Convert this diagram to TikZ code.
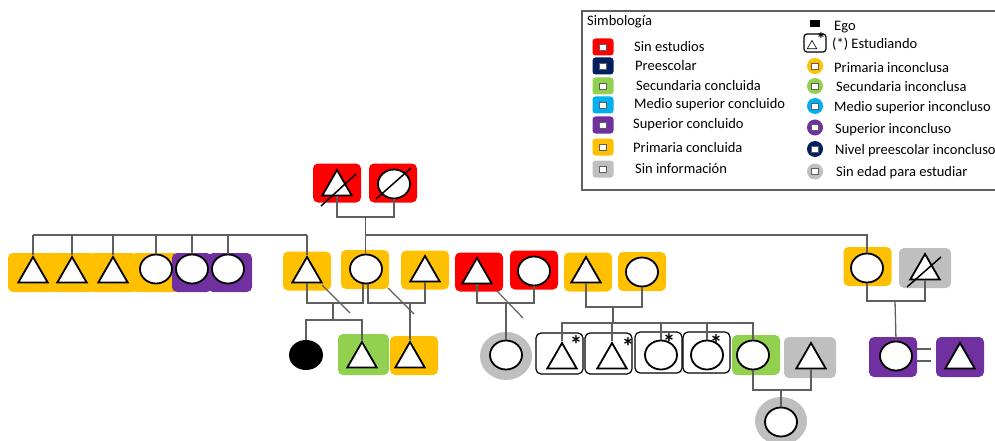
\documentclass[tikz,border=0pt]{standalone}
\usepackage{fontspec}
\setmainfont{Carlito}
\usetikzlibrary{shapes.geometric,calc}
\definecolor{cred}{HTML}{FF0000}
\definecolor{cnavy}{HTML}{002060}
\definecolor{cgreen}{HTML}{92D050}
\definecolor{cblue}{HTML}{00B0F0}
\definecolor{cpurple}{HTML}{7030A0}
\definecolor{corange}{HTML}{FFC000}
\definecolor{cgray}{HTML}{BFBFBF}
\definecolor{linegray}{HTML}{5F5F5F}
\tikzset{
  conn/.style={draw=linegray, line width=1.3pt},
  divslash/.style={draw=linegray, line width=1.2pt},
  deadslash/.style={draw=black, line width=1.5pt},
  pbox/.style={rounded corners=5pt, minimum width=48pt, minimum height=39pt, inner sep=0pt, draw=none},
  stbox/.style={rounded corners=5pt, minimum width=47pt, minimum height=41pt, inner sep=0pt, draw=black, line width=1.2pt, fill=white},
  tri/.style={regular polygon, regular polygon sides=3, minimum size=34pt, inner sep=0pt, draw=black, line width=1.8pt, fill=white},
  circ/.style={ellipse, minimum width=32pt, minimum height=29pt, inner sep=0pt, draw=black, line width=1.8pt, fill=white},
  halo/.style={ellipse, minimum width=52pt, minimum height=48pt, inner sep=0pt, fill=cgray},
  star/.style={inner sep=0pt, anchor=north, font=\fontsize{25}{25}\selectfont\bfseries},
  lt/.style={anchor=base west, inner sep=0pt},
  swatch/.style={rounded corners=3pt, minimum width=21pt, minimum height=17pt, inner sep=0pt},
  dot/.style={circle, minimum size=16pt, inner sep=0pt},
  minisq/.style={draw=linegray, fill=white, line width=0.8pt, minimum width=7pt, minimum height=6pt, inner sep=0pt},
}
\begin{document}
\begin{tikzpicture}[x=1pt,y=-1pt,font=\fontsize{14.5}{17}\selectfont]
\useasboundingbox (0,0) rectangle (995,441);
\clip (0,0) rectangle (995,441);

% ---------- Legend ----------
\draw[draw=linegray, line width=1.1pt] (582,11) rectangle (1000,190);
\node[lt] at (587,25.5) {Simbología};
\node[swatch, fill=cred] (lg1) at (603,47) {};
\node[swatch, fill=cnavy] (lg2) at (603,66) {};
\node[swatch, fill=cgreen] (lg3) at (603,86) {};
\node[swatch, fill=cblue] (lg4) at (603,105) {};
\node[swatch, fill=cpurple] (lg5) at (603,125) {};
\node[swatch, fill=corange] (lg6) at (603,147) {};
\node[swatch, fill=cgray] (lg7) at (603,169) {};
\foreach \n in {lg1,lg2,lg3,lg4,lg5,lg6,lg7} \node[minisq] at (\n) {};
\node[lt] at (634,52) {Sin estudios};
\node[lt] at (635,70.8) {Preescolar};
\node[lt] at (636,91) {Secundaria concluida};
\node[lt] at (634,108.8) {Medio superior concluido};
\node[lt] at (633,128.5) {Superior concluido};
\node[lt] at (633,152) {Primaria concluida};
\node[lt] at (635,173.8) {Sin información};

\node[fill=black, minimum width=10pt, minimum height=7pt, inner sep=0pt] (lgego) at (814.5,24) {};
\node[rounded corners=3pt, minimum width=22pt, minimum height=18pt, inner sep=0pt, draw=black, line width=1.2pt] (lgst) at (815,43) {};
\node[regular polygon, regular polygon sides=3, minimum size=11pt, inner sep=0pt, draw=black, line width=0.6pt] (lgtri) at (812,46) {};
\node[star, font=\fontsize{18}{18}\selectfont\bfseries] (lgstar) at (821,32.5) {*};
\node[dot, fill=corange] (ld1) at (815,66) {};
\node[dot, fill=cgreen] (ld2) at (815,86) {};
\node[dot, fill=cblue] (ld3) at (815,106) {};
\node[dot, fill=cpurple] (ld4) at (815,127.5) {};
\node[dot, fill=cnavy] (ld5) at (815,149) {};
\node[dot, fill=cgray] (ld6) at (815,171.5) {};
\foreach \n in {ld1,ld2,ld3,ld4,ld5,ld6} \node[minisq] at (\n) {};
\node[lt] at (834,31) {Ego};
\node[lt] at (832,48.8) {(*) Estudiando};
\node[lt] at (834,72.5) {Primaria inconclusa};
\node[lt] at (836,91.2) {Secundaria inconclusa};
\node[lt] at (834,112) {Medio superior inconcluso};
\node[lt] at (835,133.8) {Superior inconcluso};
\node[lt] at (835,154.8) {Nivel preescolar inconcluso};
\node[lt] at (836,176) {Sin edad para estudiar};

% ---------- Generation 1 ----------
\node[pbox, fill=cred] (gfbox) at (337,183) {};
\node[pbox, fill=cred] (gmbox) at (393,183) {};
\node[tri] (gf) at (337,187) {};
\node[circ] (gm) at (394,184) {};
\draw[deadslash] (321,206) -- (356,174);
\draw[deadslash] (376,199) -- (411,168);

% ---------- Generation 2 ----------
\node[pbox, fill=corange] (s1box) at (32,272.5) {};
\node[pbox, fill=corange] (s2box) at (72,272.5) {};
\node[pbox, fill=corange] (s3box) at (113,272.5) {};
\node[pbox, fill=corange] (s4box) at (155,272.5) {};
\node[pbox, fill=cpurple, minimum width=40pt] (s5box) at (192,272.5) {};
\node[pbox, fill=cpurple, minimum width=44pt] (s6box) at (230,272.5) {};
\node[tri] (s1) at (33,274) {};
\node[tri] (s2) at (72,274) {};
\node[tri] (s3) at (113,274) {};
\node[circ] (s4) at (156,269) {};
\node[circ] (s5) at (192,269) {};
\node[circ] (s6) at (228,269) {};

\node[pbox, fill=corange] (f1box) at (307,271) {};
\node[tri] (f1) at (307,274) {};
\node[pbox, fill=corange] (mbox) at (365,269.5) {};
\node[circ] (m) at (366,269) {};
\node[pbox, fill=corange] (f2box) at (425,270) {};
\node[tri] (f2) at (425,273) {};
\node[pbox, fill=cred] (rtbox) at (479,272) {};
\node[tri] (rt) at (477,275) {};
\node[pbox, fill=cred] (rcbox) at (534,270) {};
\node[circ] (rc) at (534,271) {};
\node[pbox, fill=corange] (otbox) at (588,272) {};
\node[tri] (ot) at (586,274) {};
\node[pbox, fill=corange] (ocbox) at (642,271.5) {};
\node[circ] (oc) at (642,272) {};
\node[pbox, fill=corange] (rcirbox) at (867.5,266.5) {};
\node[circ] (rcir) at (867,268) {};
\node[pbox, fill=cgray, minimum width=52pt, minimum height=40pt] (rtribox) at (925,268) {};
\node[tri] (rtri) at (925,271) {};
\draw[deadslash] (907,287) -- (941,257);

% ---------- Generation 3 ----------
\node[ellipse, fill=black, minimum width=34pt, minimum height=30pt, inner sep=0pt] (ego) at (306,355) {};
\node[pbox, fill=cgreen, minimum width=51pt, minimum height=41pt] (g3abox) at (363.5,354.5) {};
\node[tri] (g3a) at (362,359) {};
\node[pbox, fill=corange] (g3bbox) at (414,355.5) {};
\node[tri] (g3b) at (410,359) {};
\node[halo] (gh1halo) at (506,356) {};
\node[circ] (gh1) at (506,355) {};
\node[stbox] (st1box) at (559.5,353.5) {};
\node[tri] (st1) at (562,360) {};
\node[stbox] (st2box) at (608.5,353.5) {};
\node[tri] (st2) at (612,360) {};
\node[stbox] (st3box) at (658.5,352.5) {};
\node[circ] (st3) at (661,355) {};
\node[stbox] (st4box) at (706.5,352.5) {};
\node[circ] (st4) at (707,355) {};
\node[star] (ast1) at (576,335) {*};
\node[star] (ast2) at (628,337) {*};
\node[star] (ast3) at (669,333) {*};
\node[star] (ast4) at (716,334) {*};
\node[pbox, fill=cgreen, minimum height=40pt] (gcbox) at (756,355) {};
\node[circ] (gc) at (753,355) {};
\node[pbox, fill=cgray, minimum width=52pt, minimum height=41pt] (gtbox) at (810,357.5) {};
\node[tri] (gt) at (811,360) {};
\node[pbox, fill=cpurple, minimum height=40pt] (pcbox) at (893,357) {};
\node[circ] (pc) at (896,356) {};
\node[pbox, fill=cpurple, minimum height=40pt] (ptbox) at (960,357) {};
\node[tri] (pt) at (960,360) {};

% ---------- Generation 4 ----------
\node[halo] (gh2halo) at (781,421) {};
\node[circ] (gh2) at (781,422) {};

% ---------- Connectors ----------
\draw[conn] (gf.south) -- (gf.south |- 0,217) -| (gm.south);
\coordinate (gpc) at (365.5,217);
\draw[conn] (gpc) -- (gpc |- m.north);
\draw[conn] (s1.north |- 0,235) -- (f1.north |- 0,235);
\foreach \n in {s1,s2,s3,s4,s5,s6,f1} \draw[conn] (\n.north) -- (\n.north |- 0,235);
\draw[conn] (gpc |- 0,235) -- (rcir.north |- 0,235) -- (rcir.north);

% f1 -- m
\coordinate (mL) at ($(m.south)+(-3,-0.3)$);
\coordinate (mR) at ($(m.south)+(2,-0.2)$);
\draw[conn] (f1.south) |- (mL |- 0,303) -- (mL);
\coordinate (c1) at (333,303);
\draw[conn] (c1) -- (c1 |- 0,320);
\draw[conn] (ego.north) |- (g3a.north |- 0,320) -- (g3a.north);
\draw[divslash] (322,285) -- (350,313);

% m -- f2
\draw[conn] (mR) |- (f2.south |- 0,303) -- (f2.south);
\coordinate (c2) at (410,303);
\draw[conn] (c2) -- (g3b.north);
\draw[divslash] (388,288) -- (414,314);

% rt -- rc
\draw[conn] (rt.south) |- (rc.south |- 0,303) -- (rc.south);
\coordinate (c3) at (506,303);
\draw[conn] (c3) -- (gh1.north);
\draw[divslash] (497,291) -- (523,318);

% ot -- oc
\draw[conn] (ot.south) |- (oc.south |- 0,307) -- (oc.south);
\coordinate (c4) at (613,307);
\draw[conn] (c4) -- (c4 |- 0,323);
\draw[conn] (st1.north) |- (gc.north |- 0,323) -- (gc.north);
\foreach \n in {st2,st3,st4} \draw[conn] (\n.north) -- (\n.north |- 0,323);

% gc -- gt
\draw[conn] (gc.south) |- (gt.south |- 0,390) -- (gt.south);
\coordinate (c5) at (781,390);
\draw[conn] (c5) -- (gh2.north);

% rcir -- rtri
\draw[conn] (rcir.south) |- (rtri.south |- 0,301) -- (rtri.south);
\coordinate (c6) at (895,301);
\draw[conn] (c6) -- (pc.north);

% pc = pt
\draw[conn] (pcbox.east |- 0,349) -- ($(ptbox.west |- 0,349)+(-5,0)$);
\draw[conn] (pcbox.east |- 0,361) -- ($(ptbox.west |- 0,361)+(-5,0)$);
\end{tikzpicture}
\end{document}
